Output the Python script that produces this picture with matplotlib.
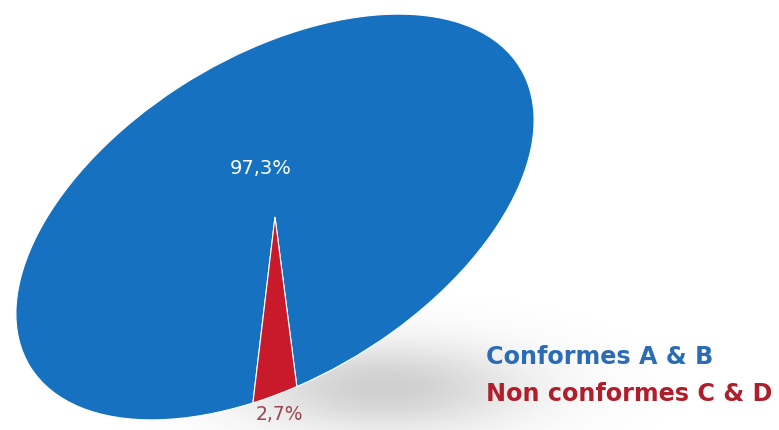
import numpy as np
import matplotlib.pyplot as plt
from matplotlib.transforms import Affine2D

# Share of conforming vs non conforming results
categories = ["Conformes A & B", "Non conformes C & D"]
shares = [97.3, 2.7]
colors = ["#1672C0", "#C91A2C"]
text_colors = ["#2C6CB4", "#B01E2C"]

W, H = 779, 430
fig = plt.figure(figsize=(W / 100, H / 100), dpi=100)
ax = fig.add_axes([0, 0, 1, 1])
ax.set_xlim(0, W)
ax.set_ylim(0, H)
ax.axis("off")

# tilted ellipse geometry (pixels, y up)
cx, cy = 275, 213
a, b, tilt = 287, 161, 31.3

# soft grey shadow under the lower right rim
yy, xx = np.mgrid[0:H, 0:W]
sx, sy = 385, 42
d = ((xx - sx) / 170.0) ** 2 + ((yy - sy) / 55.0) ** 2
alpha = 0.34 * np.exp(-d * 1.5)
shadow = np.zeros((H, W, 4))
shadow[..., :3] = 0.45
shadow[..., 3] = alpha
ax.imshow(shadow, extent=(0, W, 0, H), origin="lower", zorder=0, interpolation="bilinear")

wedges, _ = ax.pie(shares, colors=colors, startangle=-104, counterclock=True,
                   wedgeprops=dict(edgecolor="white", linewidth=0.8))
ax.set_xlim(0, W)
ax.set_ylim(0, H)
ax.set_aspect("auto")
tr = Affine2D().scale(a, b).rotate_deg(tilt).translate(cx, cy) + ax.transData
for w in wedges:
    w.set_transform(tr)
    w.set_zorder(2)

def pct(v):
    return f"{v:.1f}".replace(".", ",") + "%"

ax.text(261, 262, pct(shares[0]), color="white", fontsize=14, family="DejaVu Sans",
        ha="center", va="center", zorder=3)
ax.text(279, 15, pct(shares[1]), color="#9A4652", fontsize=13.5, family="DejaVu Sans",
        ha="center", va="center", zorder=3)

# legend as coloured text
for i, (lab, c) in enumerate(zip(categories, text_colors)):
    ax.text(486, 73 - i * 37, lab, color=c, fontsize=17.2, family="DejaVu Sans",
            fontweight="bold", ha="left", va="center", zorder=3)

fig.savefig("out.png", dpi=100)
